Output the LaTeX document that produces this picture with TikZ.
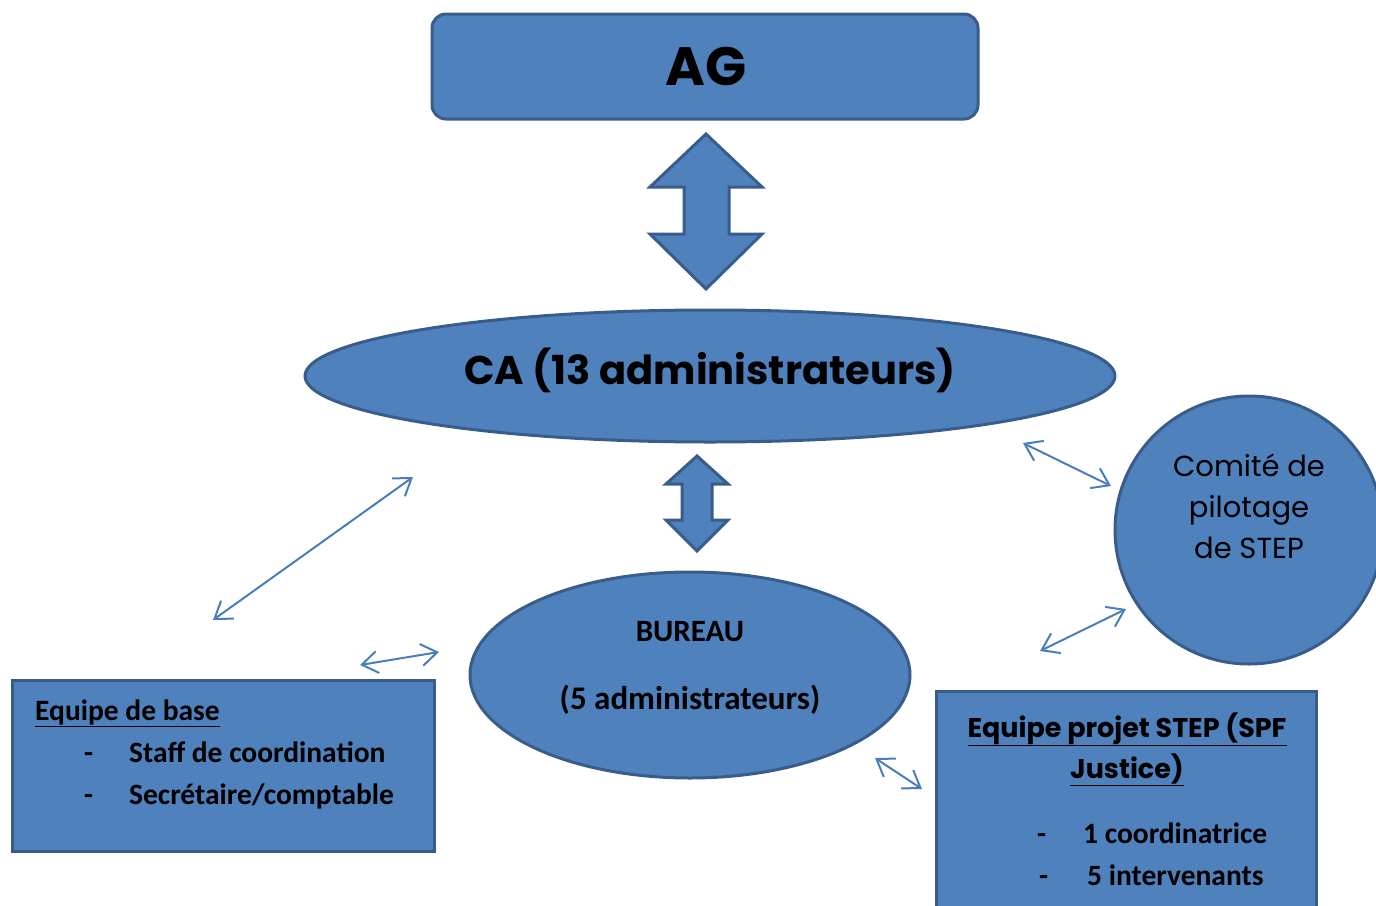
\documentclass[tikz,border=0pt]{standalone}
\usepackage{fontspec}
\setmainfont{Carlito}
\newfontfamily\gothic{Poppins}
\usetikzlibrary{shapes.geometric,arrows.meta}
\definecolor{boxblue}{HTML}{4F81BD}
\definecolor{boxline}{HTML}{385D8A}
\definecolor{linkblue}{HTML}{4A7EBB}
\begin{document}
\begin{tikzpicture}[x=1pt,y=-1pt,
  blueshape/.style={draw=boxline,fill=boxblue,line width=3pt,inner sep=0pt},
  link/.style={linkblue,line width=2pt,{Straight Barb[length=16pt,width=22pt]}-{Straight Barb[length=16pt,width=22pt]}},
  txt/.style={inner sep=0pt,font=\fontsize{29.5}{34}\selectfont\bfseries},
  ]
\useasboundingbox (0,0) rectangle (1376,905);

% AG
\node (AG) [blueshape,rounded corners=14pt,minimum width=546pt,minimum height=105pt] at (705,66.5) {};
\node (AGtxt) [inner sep=0pt,anchor=base,font=\gothic\bfseries\fontsize{54}{60}\selectfont] at (706,85) {AG};

% block arrows
\draw[blueshape] (706,134)--(762,187)--(729,187)--(729,234)--(762,234)--(706,289)--(650,234)--(684,234)--(684,187)--(650,187)--cycle;
\draw[blueshape] (697,456)--(728,484)--(712,484)--(712,520)--(728,520)--(697,551)--(666,520)--(682,520)--(682,484)--(666,484)--cycle;

% CA
\node (CA) [blueshape,ellipse,minimum width=810pt,minimum height=132pt] at (710,376) {};
\node (CAtxt) [inner sep=0pt,anchor=base,font=\gothic\bfseries\fontsize{40}{46}\selectfont] at (710,384) {CA (13 administrateurs)};

% bureau
\node (BU) [blueshape,ellipse,minimum width=440pt,minimum height=206pt] at (690,675) {};
\node (BUa) [txt,anchor=base,font=\fontsize{31}{36}\selectfont\bfseries] at (690,641) {BUREAU};
\node (BUb) [txt,anchor=base,font=\fontsize{33}{38}\selectfont\bfseries] at (690,709) {(5 administrateurs)};

% comite
\node (CP) [blueshape,circle,minimum size=268pt] at (1249,530) {};
\node (CPtxt) [inner sep=0pt,align=center,anchor=base,font=\gothic\fontsize{29}{41}\selectfont] at (1249,558) {Comité de\\pilotage\\de STEP};

% equipe de base
\node (EB) [blueshape,rectangle,minimum width=422pt,minimum height=171pt] at (223,765.5) {};
\node (EBa) [txt,anchor=base west] at (35,720) {\underline{Equipe de base}};
\node (EBb) [txt,anchor=base west] at (84,762) {-};
\node (EBc) [txt,anchor=base west] at (129,762) {Staff de coordination};
\node (EBd) [txt,anchor=base west] at (84,804) {-};
\node (EBe) [txt,anchor=base west] at (129,804) {Secrétaire/comptable};

% equipe projet
\node (EP) [blueshape,rectangle,minimum width=380pt,minimum height=240pt] at (1126,811) {};
\node (EPa) [inner sep=0pt,align=center,anchor=base,font=\gothic\bfseries\fontsize{27}{41}\selectfont] at (1127,778) {\underline{Equipe projet STEP (SPF}\\\underline{Justice)}};
\node (EPb) [txt,anchor=base west] at (1037,843) {-};
\node (EPc) [txt,anchor=base west] at (1083,843) {1 coordinatrice};
\node (EPd) [txt,anchor=base west] at (1039,885) {-};
\node (EPe) [txt,anchor=base west] at (1087,885) {5 intervenants};

% liens
\coordinate (l1a) at (213,620); \coordinate (l1b) at (413,477);
\coordinate (l2a) at (360,665); \coordinate (l2b) at (439,652);
\coordinate (l3a) at (1023,443); \coordinate (l3b) at (1111,486);
\coordinate (l4a) at (1040,651); \coordinate (l4b) at (1126,609);
\coordinate (l5a) at (875,758); \coordinate (l5b) at (922,789);
\draw[link] (l1a)--(l1b);
\draw[link] (l2a)--(l2b);
\draw[link] (l3a)--(l3b);
\draw[link] (l4a)--(l4b);
\draw[link] (l5a)--(l5b);

\end{tikzpicture}
\end{document}
